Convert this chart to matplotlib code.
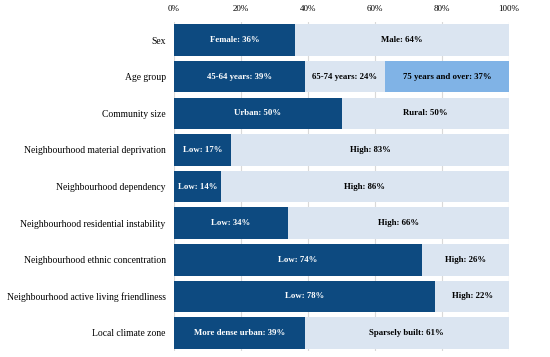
import matplotlib
matplotlib.use("Agg")
import matplotlib.pyplot as plt
import numpy as np

categories = ["Sex", "Age group", "Community size", "Neighbourhood material deprivation",
              "Neighbourhood dependency", "Neighbourhood residential instability",
              "Neighbourhood ethnic concentration", "Neighbourhood active living friendliness",
              "Local climate zone"]
seg1_labels = ["Female", "45-64 years", "Urban", "Low", "Low", "Low", "Low", "Low", "More dense urban"]
seg1_values = [36, 39, 50, 17, 14, 34, 74, 78, 39]
seg2_labels = ["Male", "65-74 years", "Rural", "High", "High", "High", "High", "High", "Sparsely built"]
seg2_values = [64, 24, 50, 83, 86, 66, 26, 22, 61]
seg3_labels = ["", "75 years and over", "", "", "", "", "", "", ""]
seg3_values = [0, 37, 0, 0, 0, 0, 0, 0, 0]
xticks = [0, 20, 40, 60, 80, 100]

c_dark = "#0d4a80"
c_light = "#dbe5f1"
c_mid = "#80b3e6"

plt.rcParams['font.family'] = ['Liberation Serif', 'DejaVu Serif']
fig = plt.figure(figsize=(5.5, 3.57), dpi=100)
ax = fig.add_axes([0.3164, 0.016, 0.6091, 0.923])

y = np.arange(len(categories))
h = 0.86
s1 = np.array(seg1_values)
s2 = np.array(seg2_values)
s3 = np.array(seg3_values)
ax.barh(y, s1, height=h, color=c_dark, zorder=2)
ax.barh(y, s2, left=s1, height=h, color=c_light, zorder=2)
ax.barh(y, s3, left=s1 + s2, height=h, color=c_mid, zorder=2)

fs = 6.3
for i in range(len(categories)):
    ax.text(s1[i] / 2, y[i], f"{seg1_labels[i]}: {s1[i]}%", ha="center", va="center",
            color="white", fontweight="bold", fontsize=fs, zorder=3)
    ax.text(s1[i] + s2[i] / 2, y[i], f"{seg2_labels[i]}: {s2[i]}%", ha="center", va="center",
            color="black", fontweight="bold", fontsize=fs, zorder=3)
    if s3[i] > 0:
        ax.text(s1[i] + s2[i] + s3[i] / 2, y[i], f"{seg3_labels[i]}: {s3[i]}%", ha="center",
                va="center", color="black", fontweight="bold", fontsize=fs, zorder=3)

ax.set_xlim(0, 100)
ax.set_ylim(len(categories) - 0.5, -0.5)
ax.set_yticks(y)
ax.set_yticklabels(categories, fontsize=6.95)
ax.set_xticks(xticks)
ax.set_xticklabels([f"{t}%" for t in xticks], fontsize=6.5)
ax.xaxis.tick_top()
ax.tick_params(axis='x', length=0, pad=6)
ax.tick_params(axis='y', length=0, pad=6)
for sp in ax.spines.values():
    sp.set_visible(False)
ax.grid(axis='x', color="#d9d9d9", linewidth=0.8, zorder=0)
ax.set_axisbelow(True)

fig.savefig("out.png", dpi=100)
